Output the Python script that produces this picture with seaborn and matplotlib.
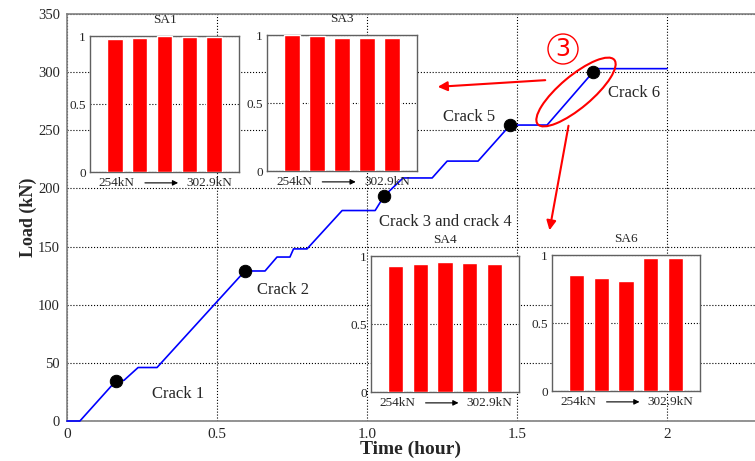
import numpy as np
import pandas as pd
import matplotlib
matplotlib.use('Agg')
import matplotlib.pyplot as plt
import seaborn as sns
from matplotlib.patches import Ellipse, Circle, FancyArrowPatch
from matplotlib.transforms import IdentityTransform

# load curve
time_h = [0, 0.043, 0.163, 0.19, 0.237, 0.30, 0.593, 0.66, 0.70, 0.743, 0.755, 0.80,
          0.917, 1.027, 1.057, 1.12, 1.217, 1.267, 1.37, 1.477, 1.60, 1.753, 1.77, 2.0]
load_kn = [0, 0, 34.5, 35, 46, 46, 129, 129, 141, 141, 148, 148,
           181, 181, 193.5, 209, 209, 223.5, 223.5, 254.5, 254.5, 300, 303, 303]

crack_t = [0.163, 0.593, 1.057, 1.477, 1.753]
crack_load = [34.5, 129, 193.5, 254.5, 300]
crack_names = ['Crack 1', 'Crack 2', 'Crack 3 and crack 4', 'Crack 5', 'Crack 6']
crack_label_pos = [(0.37, 23), (0.72, 113), (1.26, 171), (1.34, 261), (1.89, 282)]

steps = ['s1', 's2', 's3', 's4', 's5']
sa1 = [0.975, 0.985, 1.0, 0.99, 0.99]
sa3 = [0.997, 0.99, 0.98, 0.98, 0.98]
sa4 = [0.929, 0.939, 0.958, 0.949, 0.939]
sa6 = [0.85, 0.828, 0.808, 0.98, 0.98]

sns.set_theme(style='white')
plt.rcParams['font.family'] = ['Liberation Serif', 'DejaVu Serif']
plt.rcParams['axes.unicode_minus'] = False

W, H = 755, 461
fig = plt.figure(figsize=(W / 100, H / 100), dpi=100)

def fbox(l, t, r, b):
    return [l / W, (H - b) / H, (r - l) / W, (b - t) / H]

ax = fig.add_axes(fbox(67, 14, 755, 421))
df = pd.DataFrame({'t': time_h, 'load': load_kn})
sns.lineplot(data=df, x='t', y='load', ax=ax, color='#0000FF', lw=1.2, estimator=None, clip_on=False, zorder=4)
sns.scatterplot(x=crack_t, y=crack_load, ax=ax, color='black', s=80, zorder=5, edgecolor='black')
for name, (px, py) in zip(crack_names, crack_label_pos):
    ax.text(px, py, name, fontsize=12, ha='center', va='center')

ax.set_xlim(0, 2.293)
ax.set_ylim(0, 350)
ax.set_xticks([0, 0.5, 1.0, 1.5, 2])
ax.set_xticklabels(['0', '0.5', '1.0', '1.5', '2'], fontsize=11)
ax.set_yticks(np.arange(0, 351, 50))
ax.set_yticklabels([str(v) for v in range(0, 351, 50)], fontsize=10.5)
ax.grid(True, color='black', ls=':', lw=0.8)
ax.tick_params(direction='out', length=3, color='#808080', pad=2)
for s in ['left', 'top', 'bottom']:
    ax.spines[s].set_color('#808080')
    ax.spines[s].set_linewidth(1.2)
ax.spines['right'].set_visible(False)
ax.set_xlabel('Time (hour)', fontsize=14, fontweight='bold', labelpad=0)
ax.set_ylabel('Load (kN)', fontsize=13, fontweight='bold', labelpad=1)

def inset(box, vals, title):
    a = fig.add_axes(fbox(*box))
    a.set_facecolor('white')
    d = pd.DataFrame({'step': steps, 'v': vals})
    sns.barplot(data=d, x='step', y='v', ax=a, color='#FF0000', saturation=1, width=0.62, zorder=3)
    a.set_xlim(-1, 5)
    a.set_ylim(0, 1)
    a.set_xticks([])
    a.set_yticks([0, 0.5, 1])
    a.set_yticklabels(['0', '0.5', '1'], fontsize=9.5)
    a.tick_params(length=0, pad=3)
    a.set_xlabel('')
    a.set_ylabel('')
    a.grid(True, axis='y', color='black', ls=':', lw=0.8)
    for s in a.spines.values():
        s.set_color('#606060')
        s.set_linewidth(1.0)
    a.text(0.5, 1.12, title, transform=a.transAxes, ha='center', va='center', fontsize=9.5)
    a.text(0.18, -0.08, '254kN', transform=a.transAxes, ha='center', va='center', fontsize=9.5)
    a.text(0.80, -0.08, '302.9kN', transform=a.transAxes, ha='center', va='center', fontsize=9.5)
    a.annotate('', xy=(0.61, -0.08), xytext=(0.35, -0.08), xycoords='axes fraction',
               arrowprops=dict(arrowstyle='-|>', color='black', lw=0.8, mutation_scale=8))
    return a

inset((90, 36, 239, 172), sa1, 'SA1')
inset((267, 35, 417, 171), sa3, 'SA3')
inset((371, 256, 519, 392), sa4, 'SA4')
inset((552, 255, 700, 391), sa6, 'SA6')

# red annotations in pixel space
px = IdentityTransform()
fig.add_artist(Ellipse((576, H - 92), 100, 32, angle=40, fill=False, ec='red', lw=1.5, transform=px))
fig.add_artist(Circle((563, H - 49), 15, fill=False, ec='red', lw=1.0, transform=px))
fig.text(563 / W, (H - 49) / H, '3', color='red', fontsize=17, ha='center', va='center',
         family=['DejaVu Sans'])
fig.add_artist(FancyArrowPatch((548, H - 80), (435, H - 87), arrowstyle='-|>',
                               mutation_scale=14, color='red', lw=1.5, transform=px))
fig.add_artist(FancyArrowPatch((569, H - 123), (549, H - 233), arrowstyle='-|>',
                               mutation_scale=14, color='red', lw=1.5, transform=px))

fig.savefig('out.png', dpi=100)
